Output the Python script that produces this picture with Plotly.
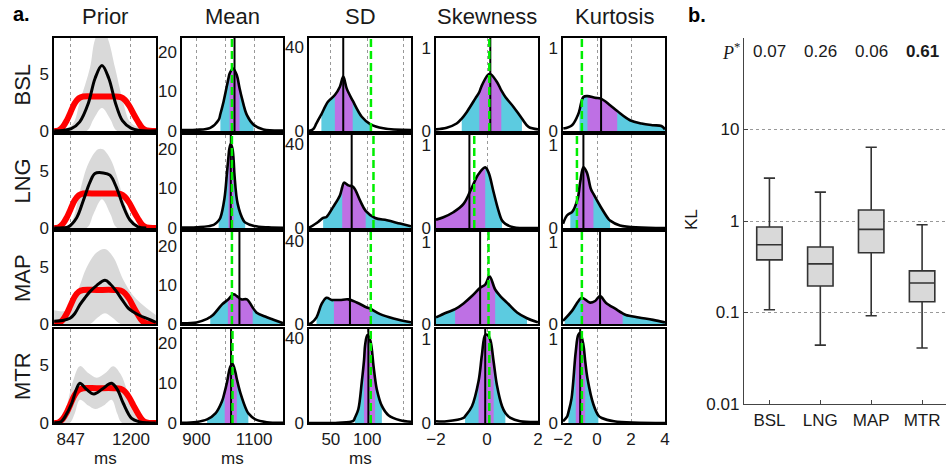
import plotly.graph_objects as go

# ---------------- DATA ----------------
CONDS = ["BSL", "LNG", "MAP", "MTR"]
COL_TITLES = ["Prior", "Mean", "SD", "Skewness", "Kurtosis"]

# Prior column (ms, density x 1e-3)
PRIOR_TRUE_X = [750, 775, 800, 825, 845, 870, 895, 920, 1000, 1100, 1140, 1165, 1190, 1215, 1240, 1265, 1290, 1350]
PRIOR_TRUE_Y = [0.0, 0.05, 0.35, 0.95, 1.6, 2.4, 2.85, 3.0, 3.0, 3.0, 2.95, 2.7, 2.2, 1.5, 0.85, 0.3, 0.05, 0.0]

PRIOR_FIT_X = {
    "BSL": [750, 800, 850, 900, 950, 990, 1030, 1070, 1110, 1150, 1200, 1250, 1350],
    "LNG": [750, 800, 833, 882, 921, 960, 989, 1038, 1077, 1116, 1155, 1194, 1242, 1290],
    "MAP": [750, 800, 843, 870, 901, 930, 960, 1000, 1048, 1080, 1116, 1150, 1184, 1210, 1252, 1300, 1346],
    "MTR": [750, 790, 814, 853, 880, 901, 940, 983, 1030, 1070, 1087, 1120, 1155, 1204, 1252, 1300, 1346],
}
PRIOR_FIT_Y = {
    "BSL": [0.02, 0.05, 0.2, 0.8, 2.4, 4.6, 5.7, 4.6, 2.4, 0.9, 0.25, 0.05, 0.02],
    "LNG": [0.0, 0.02, 0.1, 0.9, 2.4, 4.0, 4.75, 4.8, 4.6, 3.5, 1.9, 0.7, 0.1, 0.0],
    "MAP": [0.25, 0.3, 0.5, 0.9, 1.7, 2.3, 2.85, 3.4, 3.85, 3.5, 2.85, 2.1, 1.4, 1.1, 0.75, 0.45, 0.15],
    "MTR": [0.02, 0.1, 0.55, 1.7, 2.9, 3.42, 2.9, 2.5, 2.9, 3.35, 3.42, 2.9, 1.7, 0.4, 0.1, 0.02, 0.0],
}
PRIOR_HI_X = {
    "BSL": [750, 853, 901, 960, 990, 1030, 1066, 1107, 1153, 1194, 1240, 1300, 1350],
    "LNG": [750, 830, 862, 901, 950, 1007, 1036, 1080, 1116, 1175, 1223, 1260, 1290],
    "MAP": [750, 824, 882, 941, 999, 1048, 1096, 1155, 1213, 1291, 1346],
    "MTR": [750, 775, 814, 860, 901, 950, 1000, 1050, 1096, 1140, 1175, 1213, 1270, 1346],
}
PRIOR_HI_Y = {
    "BSL": [0.05, 0.5, 2.6, 5.5, 8.0, 9.0, 8.0, 5.5, 2.6, 0.8, 0.35, 0.3, 0.2],
    "LNG": [0.0, 0.1, 0.85, 3.2, 5.6, 6.85, 6.85, 6.0, 4.6, 1.7, 0.3, 0.05, 0.0],
    "MAP": [1.2, 1.2, 2.7, 5.0, 6.3, 6.6, 5.9, 3.9, 2.5, 1.4, 0.8],
    "MTR": [0.0, 0.3, 1.1, 3.6, 4.9, 4.3, 3.9, 4.3, 4.9, 4.2, 2.9, 1.0, 0.2, 0.0],
}
PRIOR_LO_X = {
    "BSL": [750, 940, 980, 1030, 1080, 1120, 1350],
    "LNG": [750, 940, 980, 1030, 1080, 1120, 1290],
    "MAP": [750, 960, 1000, 1048, 1096, 1140, 1346],
    "MTR": [750, 840, 870, 901, 950, 990, 1040, 1087, 1120, 1150, 1346],
}
PRIOR_LO_Y = {
    "BSL": [0, 0, 1.0, 2.0, 1.0, 0, 0],
    "LNG": [0, 0, 1.2, 2.5, 1.2, 0, 0],
    "MAP": [0, 0, 0.5, 0.95, 0.5, 0, 0],
    "MTR": [0, 0, 0.8, 2.0, 1.5, 1.2, 1.5, 2.0, 0.8, 0, 0],
}

# Mean column (ms)
MEAN_X = {
    "BSL": [850, 900, 948, 977, 983, 994, 1011, 1015, 1027, 1040, 1049, 1058, 1075, 1098, 1132, 1200],
    "LNG": [850, 900, 960, 977, 983, 997, 1006, 1011, 1014, 1019, 1025, 1029, 1032, 1043, 1063, 1069, 1100, 1150, 1200],
    "MAP": [850, 900, 937, 948, 960, 989, 1009, 1029, 1040, 1055, 1075, 1086, 1095, 1109, 1138, 1167, 1200],
    "MTR": [850, 900, 937, 966, 989, 998, 1006, 1017, 1025, 1035, 1040, 1052, 1075, 1080, 1104, 1144, 1200],
}
MEAN_Y = {
    "BSL": [0.25, 0.3, 0.8, 2.8, 4.3, 7.4, 13.3, 14.5, 15.8, 14.1, 11.0, 8.2, 4.0, 1.6, 0.4, 0.1],
    "LNG": [0.1, 0.2, 0.8, 1.9, 2.6, 7.4, 14.1, 18.0, 20.0, 21.3, 20.0, 17.0, 13.3, 6.1, 1.9, 1.4, 0.5, 0.15, 0.05],
    "MAP": [0.2, 0.4, 1.3, 1.8, 2.5, 5.0, 6.2, 7.6, 7.1, 6.3, 6.3, 5.3, 4.2, 2.9, 1.9, 1.1, 0.2],
    "MTR": [0.05, 0.25, 0.9, 2.4, 5.5, 7.8, 10.2, 14.0, 14.8, 12.7, 11.0, 7.6, 3.0, 2.4, 0.9, 0.2, 0.05],
}
MEAN_CI95 = {"BSL": (983, 1098), "LNG": (977, 1069), "MAP": (948, 1200), "MTR": (937, 1080)}
MEAN_CI50 = {"BSL": (1015, 1049), "LNG": (1011, 1029), "MAP": (1009, 1095), "MTR": (998, 1040)}
MEAN_EST = {"BSL": 1032, "LNG": 1019, "MAP": 1049, "MTR": 1020}
MEAN_TRUE = {"BSL": 1023, "LNG": 1023, "MAP": 1023, "MTR": 1025}

# SD column (ms)
SD_X = {
    "BSL": [20, 25.6, 30, 35, 37, 46, 55.5, 62.4, 67, 71.7, 80, 92.4, 104, 122, 160],
    "LNG": [20, 32.5, 39.4, 44, 53, 62.4, 65.6, 68, 74, 80.8, 90, 97.8, 110.7, 127, 145, 160],
    "MAP": [20, 22.4, 30.3, 37.2, 44, 51, 54.2, 62.4, 74, 85.5, 99.3, 104, 117.6, 136, 160],
    "MTR": [20, 60, 80.8, 83, 87.7, 92.4, 95.6, 97, 100, 104, 108.5, 110.7, 113, 120, 129, 145, 160],
}
SD_Y = {
    "BSL": [0.1, 0.8, 3.5, 6.8, 8.0, 14.0, 17.2, 21.2, 26.0, 20.4, 14.5, 6.8, 3.3, 1.3, 0.4],
    "LNG": [0.1, 2.9, 4.8, 5.3, 10.0, 15.6, 19.5, 21.7, 20.4, 19.6, 13.2, 8.2, 4.8, 3.7, 2.1, 0.8],
    "MAP": [0.1, 0.3, 3.2, 9.6, 12.7, 11.6, 11.6, 11.6, 11.9, 10.4, 8.0, 7.4, 4.8, 2.7, 0.8],
    "MTR": [0.0, 0.1, 1.0, 2.5, 6.5, 19.3, 30.0, 36.8, 41.6, 39.2, 27.2, 21.0, 16.0, 8.1, 3.7, 1.3, 0.6],
}
SD_CI95 = {"BSL": (37, 104), "LNG": (39.4, 160), "MAP": (30.3, 160), "MTR": (83, 120)}
SD_CI50 = {"BSL": (55.5, 80), "LNG": (65.6, 97.8), "MAP": (54.2, 104), "MTR": (95.6, 110.7)}
SD_EST = {"BSL": 67, "LNG": 78.6, "MAP": 76.2, "MTR": 101.5}
SD_TRUE = {"BSL": 105, "LNG": 108.5, "MAP": 104.8, "MTR": 104.8}

# Skewness column
SKEW_X = {
    "BSL": [-2, -1.58, -1.19, -0.99, -0.79, -0.46, -0.3, -0.2, 0.1, 0.39, 0.56, 0.72, 1.04, 1.37, 1.63, 2],
    "LNG": [-2, -1.71, -1.32, -0.92, -0.59, -0.33, -0.07, 0.06, 0.26, 0.45, 0.59, 0.72, 1.04, 2],
    "MAP": [-2, -1.58, -1.25, -0.92, -0.59, -0.27, -0.07, 0.1, 0.32, 0.52, 0.85, 1.18, 1.57, 2],
    "MTR": [-2, -1.58, -0.92, -0.86, -0.59, -0.33, -0.2, -0.07, 0.02, 0.13, 0.26, 0.39, 0.59, 0.72, 0.92, 1.3, 2],
}
SKEW_Y = {
    "BSL": [0.02, 0.04, 0.09, 0.15, 0.23, 0.39, 0.47, 0.55, 0.69, 0.59, 0.49, 0.41, 0.29, 0.15, 0.05, 0.02],
    "LNG": [0.1, 0.13, 0.19, 0.29, 0.49, 0.65, 0.73, 0.67, 0.43, 0.21, 0.09, 0.05, 0.01, 0.0],
    "MAP": [0.08, 0.14, 0.18, 0.25, 0.34, 0.44, 0.48, 0.58, 0.42, 0.34, 0.24, 0.14, 0.07, 0.02],
    "MTR": [0.02, 0.02, 0.06, 0.08, 0.2, 0.5, 0.81, 1.05, 1.05, 0.99, 0.73, 0.45, 0.2, 0.12, 0.06, 0.02, 0.01],
}
SKEW_CI95 = {"BSL": (-0.99, 1.37), "LNG": (-2, 0.59), "MAP": (-2, 1.57), "MTR": (-0.86, 0.72)}
SKEW_CI50 = {"BSL": (-0.3, 0.56), "LNG": (-2, -0.07), "MAP": (-1.25, 0.32), "MTR": (-0.33, 0.26)}
SKEW_EST = {"BSL": 0.13, "LNG": -0.69, "MAP": -0.27, "MTR": -0.07}
SKEW_TRUE = {"BSL": 0.09, "LNG": -0.5, "MAP": 0.06, "MTR": 0.09}

# Kurtosis column
KURT_X = {
    "BSL": [-1.98, -1.47, -1.09, -1.03, -0.8, -0.56, -0.11, 0.23, 0.77, 1.19, 1.94, 2.62, 3.3, 3.79, 4.0],
    "LNG": [-2, -1.77, -1.57, -1.47, -1.14, -0.99, -0.8, -0.6, -0.36, -0.21, 0.23, 0.67, 0.77, 1.35, 4.0],
    "MAP": [-2, -1.9, -1.47, -1.09, -0.89, -0.41, -0.11, 0.18, 0.52, 1.12, 1.51, 1.7, 2.46, 3.3, 4.0],
    "MTR": [-2, -1.75, -1.68, -1.5, -1.25, -1.1, -0.99, -0.8, -0.7, -0.56, -0.21, 0.08, 0.28, 1.0, 4.0],
}
KURT_Y = {
    "BSL": [0.03, 0.07, 0.21, 0.25, 0.41, 0.42, 0.40, 0.39, 0.31, 0.24, 0.13, 0.09, 0.07, 0.06, 0.02],
    "LNG": [0.05, 0.15, 0.18, 0.19, 0.35, 0.55, 0.73, 0.67, 0.47, 0.41, 0.25, 0.11, 0.09, 0.03, 0.0],
    "MAP": [0.04, 0.06, 0.16, 0.28, 0.32, 0.26, 0.28, 0.34, 0.26, 0.18, 0.13, 0.11, 0.08, 0.05, 0.02],
    "MTR": [0.02, 0.08, 0.13, 0.29, 0.85, 1.05, 1.07, 0.93, 0.75, 0.53, 0.22, 0.09, 0.06, 0.02, 0.0],
}
KURT_CI95 = {"BSL": (-1.03, 4.0), "LNG": (-1.57, 0.77), "MAP": (-1.9, 4.0), "MTR": (-1.68, 0.08)}
KURT_CI50 = {"BSL": (-0.56, 1.19), "LNG": (-1.14, -0.21), "MAP": (-0.89, 1.51), "MTR": (-1.25, -0.7)}
KURT_EST = {"BSL": 0.24, "LNG": -0.8, "MAP": 0.18, "MTR": -0.99}
KURT_TRUE = {"BSL": -0.89, "LNG": -1.18, "MAP": -0.89, "MTR": -0.89}

# Panel b: KL divergence box plots
KL_Q1 = [0.376, 0.195, 0.45, 0.131]
KL_MEDIAN = [0.55, 0.34, 0.81, 0.21]
KL_Q3 = [0.86, 0.52, 1.32, 0.285]
KL_LOW = [0.107, 0.044, 0.092, 0.041]
KL_HIGH = [2.94, 2.07, 6.4, 0.91]
P_STAR = ["0.07", "0.26", "0.06", "0.61"]

# axis settings per column
X_RANGE = [[749, 1347], [850, 1200], [20, 160], [-2, 2], [-2, 4]]
Y_RANGE = [[0, 8.1], [0, 23.5], [0, 44.5], [0, 1.12], [0, 1.12]]
X_TICKS = [[847, 1200], [900, 1000, 1100], [50, 100, 150], [-2, 0, 2], [-2, 0, 2, 4]]
X_TICKTEXT = [["847", "1200"], ["900", "", "1100"], ["50", "100", ""],
              ["\u22122", "0", "2"], ["\u22122", "0", "2", "4"]]
Y_TICKS = [[0, 5], [0, 10, 20], [0, 40], [0, 1], [0, 1]]

# ---------------- STYLE / LAYOUT ----------------
W, H = 947, 470
FONT = "Liberation Sans, Arial, sans-serif"
CYAN = "rgb(92,203,224)"
PURPLE = "rgb(190,112,228)"
GRAY = "rgb(217,217,217)"
GREEN = "rgb(0,238,0)"

COL_PX = [(54, 156), (182, 283), (309, 411), (436, 538), (563, 665)]
ROW_PX = [(38, 131), (135, 228), (232, 324), (329, 423)]


def fx(p):
    return p / W


def fy(p):
    return 1 - p / H


fig = go.Figure()
layout = dict(width=W, height=H, autosize=False, margin=dict(l=0, r=0, t=0, b=0, pad=0),
              plot_bgcolor="white", paper_bgcolor="white", showlegend=False,
              font=dict(family=FONT, color="#1a1a1a"))
shapes = []
annotations = []

COLUMN_DATA = [None,
               (MEAN_X, MEAN_Y, MEAN_CI95, MEAN_CI50, MEAN_EST, MEAN_TRUE),
               (SD_X, SD_Y, SD_CI95, SD_CI50, SD_EST, SD_TRUE),
               (SKEW_X, SKEW_Y, SKEW_CI95, SKEW_CI50, SKEW_EST, SKEW_TRUE),
               (KURT_X, KURT_Y, KURT_CI95, KURT_CI50, KURT_EST, KURT_TRUE)]


def seg(xs, ys, lo, hi):
    px, py = [], []
    for a, b in zip(xs, ys):
        if lo - 1e-9 <= a <= hi + 1e-9:
            px.append(a)
            py.append(b)
    return px, py


def line_trace(x, y, xr, yr, **kw):
    return go.Scatter(x=x, y=y, xaxis=xr, yaxis=yr, mode="lines", hoverinfo="skip", **kw)


for r, cond in enumerate(CONDS):
    for c in range(5):
        k = r * 5 + c + 1
        sx = "" if k == 1 else str(k)
        xr, yr = "x" + sx, "y" + sx
        x0, x1 = COL_PX[c]
        y0, y1 = ROW_PX[r]
        layout["xaxis" + sx] = dict(
            domain=[fx(x0), fx(x1)], range=X_RANGE[c], anchor=yr, automargin=False,
            tickvals=X_TICKS[c], ticktext=X_TICKTEXT[c], showticklabels=(r == 3),
            showgrid=True, gridcolor="#999", griddash="dot", gridwidth=1,
            showline=True, mirror=True, linecolor="black", linewidth=1.5,
            ticks="", zeroline=False, fixedrange=True,
            tickfont=dict(size=17, family=FONT, color="#1a1a1a"))
        layout["yaxis" + sx] = dict(
            domain=[fy(y1), fy(y0)], range=Y_RANGE[c], anchor=xr, automargin=False,
            tickvals=Y_TICKS[c], showgrid=False,
            showline=True, mirror=True, linecolor="black", linewidth=1.5,
            ticks="", zeroline=False, fixedrange=True,
            tickfont=dict(size=17, family=FONT, color="#1a1a1a"))

        if c == 0:
            fig.add_trace(line_trace(PRIOR_LO_X[cond], PRIOR_LO_Y[cond], xr, yr,
                                     line=dict(width=0, shape="spline", color=GRAY)))
            fig.add_trace(line_trace(PRIOR_HI_X[cond], PRIOR_HI_Y[cond], xr, yr,
                                     fill="tonexty", fillcolor=GRAY,
                                     line=dict(width=0, shape="spline", color=GRAY)))
            fig.add_trace(line_trace(PRIOR_TRUE_X, PRIOR_TRUE_Y, xr, yr,
                                     line=dict(width=6, shape="spline", color="red")))
            fig.add_trace(line_trace(PRIOR_FIT_X[cond], PRIOR_FIT_Y[cond], xr, yr,
                                     line=dict(width=3, shape="spline", color="black")))
        else:
            DX, DY, C95, C50, EST, TRUE = COLUMN_DATA[c]
            xs, ys = DX[cond], DY[cond]
            a, b = seg(xs, ys, *C95[cond])
            fig.add_trace(line_trace(a, b, xr, yr, fill="tozeroy", fillcolor=CYAN,
                                     line=dict(width=0, shape="spline", color=CYAN)))
            a, b = seg(xs, ys, *C50[cond])
            fig.add_trace(line_trace(a, b, xr, yr, fill="tozeroy", fillcolor=PURPLE,
                                     line=dict(width=0, shape="spline", color=PURPLE)))
            fig.add_trace(line_trace(xs, ys, xr, yr,
                                     line=dict(width=2.6, shape="spline", color="black")))
            shapes.append(dict(type="line", xref=xr, yref=yr + " domain",
                               x0=EST[cond], x1=EST[cond], y0=0, y1=1,
                               line=dict(color="black", width=2)))
            shapes.append(dict(type="line", xref=xr, yref=yr + " domain",
                               x0=TRUE[cond], x1=TRUE[cond], y0=0, y1=1,
                               line=dict(color=GREEN, width=2.5, dash="8px,4px")))

# ---------------- panel b ----------------
layout["xaxis21"] = dict(domain=[fx(744), fx(946)], range=[0.5, 4.47], anchor="y21",
                         automargin=False,
                         tickvals=[1, 2, 3, 4], ticktext=CONDS, ticks="inside", ticklen=4,
                         tickcolor="#444", showline=True, linecolor="#444", linewidth=1.3,
                         showgrid=False, zeroline=False, fixedrange=True,
                         tickfont=dict(size=17, family=FONT, color="#1a1a1a"))
layout["yaxis21"] = dict(domain=[fy(404), fy(38)], type="log", range=[-2, 2], anchor="x21",
                         automargin=False,
                         tickvals=[0.01, 0.1, 1, 10], ticktext=["0.01", "0.1", "1", "10"],
                         ticks="inside", ticklen=4, tickcolor="#444",
                         showline=True, linecolor="#444", linewidth=1.3,
                         showgrid=True, gridcolor="#999", griddash="dot", gridwidth=1,
                         zeroline=False, fixedrange=True,
                         tickfont=dict(size=17, family=FONT, color="#1a1a1a"))
fig.add_trace(go.Box(x=[1, 2, 3, 4], q1=KL_Q1, median=KL_MEDIAN, q3=KL_Q3,
                     lowerfence=KL_LOW, upperfence=KL_HIGH, xaxis="x21", yaxis="y21",
                     fillcolor=GRAY, line=dict(color="#333", width=1.6), width=0.5,
                     whiskerwidth=0.44, boxpoints=False, hoverinfo="skip"))

for i, p in enumerate(P_STAR):
    txt = "<b>%s</b>" % p if i == 3 else p
    annotations.append(dict(x=i + 1, xref="x21", y=fy(52), yref="paper", text=txt,
                            showarrow=False, xanchor="center", yanchor="middle",
                            font=dict(size=17, family=FONT, color="#1a1a1a")))
annotations.append(dict(x=fx(731), y=fy(52), xref="paper", yref="paper",
                        text="<i>P</i><sup>*</sup>", showarrow=False,
                        xanchor="center", yanchor="middle",
                        font=dict(size=18, family="Liberation Serif, serif", color="#1a1a1a")))

# ---------------- text labels ----------------
annotations.append(dict(x=fx(11), y=fy(14), xref="paper", yref="paper", text="<b>a.</b>",
                        showarrow=False, xanchor="left", yanchor="middle",
                        font=dict(size=20, family=FONT, color="black")))
annotations.append(dict(x=fx(686), y=fy(15), xref="paper", yref="paper", text="<b>b.</b>",
                        showarrow=False, xanchor="left", yanchor="middle",
                        font=dict(size=20, family=FONT, color="black")))
TITLE_X = [105, 232, 360, 487, 614]
for t, xc in zip(COL_TITLES, TITLE_X):
    annotations.append(dict(x=fx(xc), y=fy(16), xref="paper", yref="paper", text=t,
                            showarrow=False, xanchor="center", yanchor="middle",
                            font=dict(size=22, family=FONT, color="#1a1a1a")))
for cond, (y0, y1) in zip(CONDS, ROW_PX):
    annotations.append(dict(x=fx(22), y=fy((y0 + y1) / 2), xref="paper", yref="paper",
                            text=cond, textangle=-90, showarrow=False,
                            xanchor="center", yanchor="middle",
                            font=dict(size=22, family=FONT, color="#1a1a1a")))
for xc in TITLE_X[:3]:
    annotations.append(dict(x=fx(xc), y=fy(458), xref="paper", yref="paper", text="ms",
                            showarrow=False, xanchor="center", yanchor="middle",
                            font=dict(size=17, family=FONT, color="#1a1a1a")))
annotations.append(dict(x=fx(691), y=fy(220), xref="paper", yref="paper", text="KL",
                        textangle=-90, showarrow=False, xanchor="center", yanchor="middle",
                        font=dict(size=17, family=FONT, color="#1a1a1a")))

layout["shapes"] = shapes
layout["annotations"] = annotations
fig.update_layout(**layout)
fig.write_html("out.html", config={"displayModeBar": False},
               post_script="document.body.style.margin='0';document.body.style.overflow='hidden';")
